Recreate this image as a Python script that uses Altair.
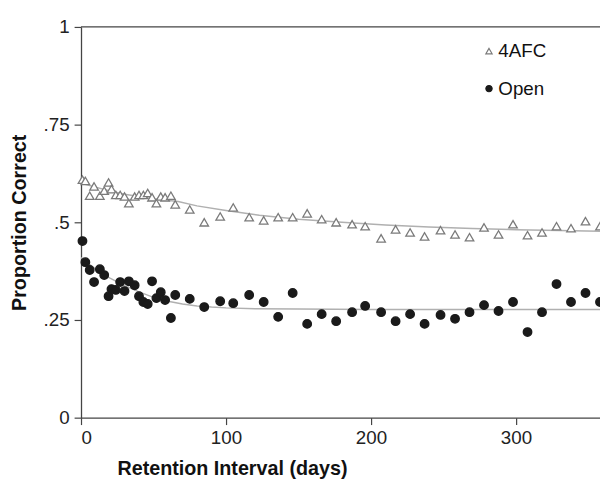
import altair as alt
import pandas as pd

days = [1, 3, 6, 9, 13, 16, 19, 21, 24, 27, 30, 33, 37, 40, 43, 46, 49, 52, 55, 58, 62, 65,
        75, 85, 96, 105, 116,
        126, 136, 146, 156, 166, 176, 187, 196, 207, 217, 227, 237,
        248, 258, 268, 278, 288, 298, 308, 318, 328, 338, 348, 358]

afc = [0.609, 0.606, 0.568, 0.592, 0.568, 0.581, 0.602, 0.585, 0.570, 0.570, 0.566, 0.549,
       0.566, 0.570, 0.570, 0.575, 0.564, 0.549, 0.566, 0.564, 0.568, 0.546,
       0.533, 0.500, 0.515, 0.538, 0.513,
       0.505, 0.513, 0.513, 0.523, 0.508, 0.500, 0.495, 0.490, 0.459, 0.482, 0.474, 0.464,
       0.480, 0.469, 0.462, 0.487, 0.469, 0.495, 0.467, 0.474, 0.490, 0.485, 0.503, 0.490]

open_ = [0.452, 0.398, 0.378, 0.347, 0.380, 0.365, 0.311, 0.329, 0.327, 0.347, 0.324, 0.349,
         0.339, 0.311, 0.296, 0.291, 0.349, 0.306, 0.321, 0.301, 0.255, 0.314,
         0.304, 0.283, 0.298, 0.293, 0.314,
         0.296, 0.258, 0.319, 0.240, 0.265, 0.247, 0.270, 0.286, 0.270, 0.247, 0.265, 0.240,
         0.263, 0.253, 0.270, 0.288, 0.273, 0.296, 0.219, 0.270, 0.342, 0.296, 0.319, 0.296]

fit_days_afc = [0, 10, 20, 30, 40, 50, 67, 80, 100, 123, 150, 180, 210, 240, 270, 300, 330, 361]
fit_afc = [0.600, 0.590, 0.580, 0.572, 0.566, 0.560, 0.553, 0.542, 0.530, 0.518, 0.508, 0.500,
           0.493, 0.488, 0.484, 0.481, 0.479, 0.477]

fit_days_open = [0, 5, 10, 15, 20, 30, 40, 50, 60, 70, 80, 90, 100, 120, 150, 200, 361]
fit_open = [0.410, 0.395, 0.380, 0.368, 0.357, 0.338, 0.322, 0.308, 0.298, 0.291, 0.286, 0.283,
            0.281, 0.279, 0.278, 0.277, 0.277]

pts = pd.DataFrame({
    "day": days + days,
    "value": afc + open_,
    "series": ["4AFC"] * len(days) + ["Open"] * len(days),
})
fits = pd.DataFrame({
    "day": fit_days_afc + fit_days_open,
    "value": fit_afc + fit_open,
    "series": ["4AFC"] * len(fit_days_afc) + ["Open"] * len(fit_days_open),
})

FONT = "Liberation Sans"
W, H = 526, 396

xscale = alt.Scale(domain=[0, 358], nice=False, zero=False)
yscale = alt.Scale(domain=[0, 1], nice=False)

xaxis = alt.Axis(values=[0, 100, 200, 300], title="Retention Interval (days)", grid=False,
                 titleX=153, titleAnchor="start", titleAlign="center", titleY=42)
yaxis = alt.Axis(values=[0, 0.25, 0.5, 0.75, 1], title="Proportion Correct", grid=False,
                 labelExpr="datum.value == 0 ? '0' : datum.value == 1 ? '1' : substring(format(datum.value, '.2~f'), 1)")

lines = alt.Chart(fits).mark_line(color="#b0b0b0", strokeWidth=1.5, clip=True).encode(
    x=alt.X("day:Q", scale=xscale, axis=xaxis),
    y=alt.Y("value:Q", scale=yscale, axis=yaxis),
    detail="series:N",
)

leg = alt.Legend(title=None)
dom = ["4AFC", "Open"]
points = alt.Chart(pts).mark_point(size=75, strokeWidth=1.3, opacity=1).encode(
    x=alt.X("day:Q", scale=xscale),
    y=alt.Y("value:Q", scale=yscale),
    shape=alt.Shape("series:N", scale=alt.Scale(domain=dom, range=["triangle-up", "circle"]), legend=leg),
    fill=alt.Fill("series:N", scale=alt.Scale(domain=dom, range=["#ffffff", "#1a1a1a"]), legend=leg),
    stroke=alt.Stroke("series:N", scale=alt.Scale(domain=dom, range=["#7a7a7a", "#1a1a1a"]), legend=leg),
)

topline = alt.Chart(pd.DataFrame({"a": [0]})).mark_rule(color="#444", strokeWidth=1.2).encode(
    x=alt.value(0), x2=alt.value(W), y=alt.value(0)
)

chart = alt.layer(lines, points, topline).properties(
    width=W, height=H,
    autosize=alt.AutoSizeParams(type="none"),
    padding={"left": 74, "top": 16, "right": 0, "bottom": 62},
).configure_view(stroke=None).configure_axis(
    labelFont=FONT, labelFontSize=19, labelColor="#222",
    titleFont=FONT, titleFontSize=20, titleFontWeight="bold", titleColor="#111",
    domainColor="#444", domainWidth=1.3, tickColor="#444", tickSize=7, tickWidth=1.2,
    labelPadding=4,
).configure_axisY(titlePadding=14, labelPadding=5).configure_legend(
    orient="none", legendX=404, legendY=15, labelFont=FONT, labelFontSize=19,
    labelColor="#111", symbolSize=40, rowPadding=18, labelOffset=0, symbolStrokeWidth=1.2,
)

chart.save("out.html", embed_options={"renderer": "svg", "actions": False})
